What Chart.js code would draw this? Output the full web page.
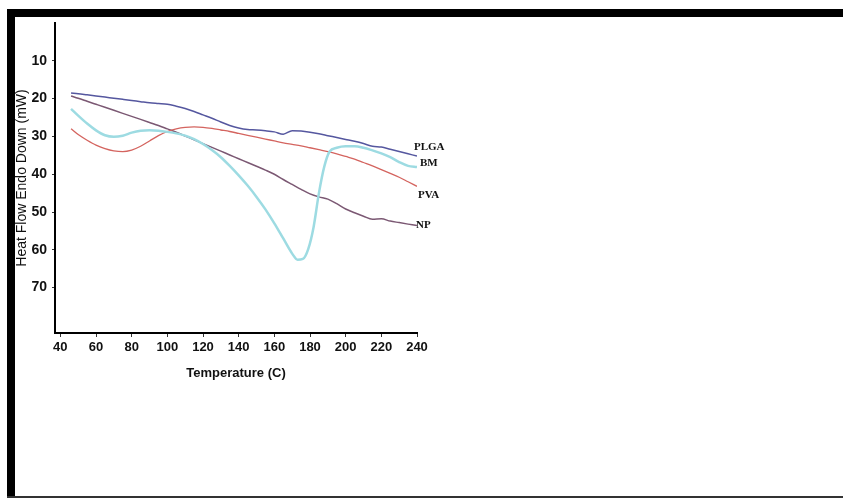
<!DOCTYPE html>
<html>
<head>
<meta charset="utf-8">
<script src="https://cdn.jsdelivr.net/npm/chart.js@4/dist/chart.umd.min.js"></script>
<style>
  body { margin: 0; background: #fff; }
  #wrap { position: relative; width: 844px; height: 500px; overflow: hidden; }
  #chart { position: absolute; left: 0; top: 0; }
  .band { position: absolute; background: #000; }
</style>
</head>
<body>
<div id="wrap">
  <canvas id="chart" width="844" height="500"></canvas>
  <div class="band" style="left:7px; top:9px; width:836px; height:8px;"></div>
  <div class="band" style="left:7px; top:9px; width:8px; height:489px;"></div>
  <div class="band" style="left:7px; top:496px; width:836px; height:2px; background:#333;"></div>
</div>
<script>
// temperature (C) shared by PLGA, PVA and NP
let temps = [46, 50, 55, 60, 65, 70, 75, 80, 85, 90, 95, 100, 105, 110, 115, 120, 125, 130, 135, 140,
    145, 150, 155, 160, 165, 170, 175, 180, 185, 190, 195, 200, 205, 210, 215, 220, 225, 230, 235, 240];

let plga = [18.5, 18.7, 19.0, 19.3, 19.6, 19.9, 20.2, 20.5, 20.8, 21.1, 21.3, 21.5, 22.0, 22.6, 23.4, 24.3, 25.2, 26.2, 27.1, 27.8,
    28.2, 28.3, 28.5, 28.8, 29.4, 28.5, 28.6, 28.9, 29.3, 29.8, 30.3, 30.8, 31.3, 31.9, 32.6, 32.8, 33.4, 34.0, 34.6, 35.2];

let pva = [28.0, 29.5, 31.0, 32.3, 33.2, 33.8, 34.0, 33.6, 32.6, 31.2, 29.8, 28.7, 28.0, 27.6, 27.5, 27.6, 27.9, 28.3, 28.7, 29.2,
    29.7, 30.2, 30.7, 31.2, 31.7, 32.1, 32.5, 33.0, 33.5, 34.0, 34.6, 35.3, 36.0, 36.9, 37.8, 38.8, 39.8, 40.8, 42.0, 43.2];

let np = [19.3, 19.9, 20.7, 21.5, 22.3, 23.1, 23.9, 24.7, 25.5, 26.3, 27.1, 28.0, 28.9, 29.9, 30.9, 31.9, 32.9, 33.9, 34.9, 35.9,
    36.9, 37.9, 38.9, 40.0, 41.4, 42.7, 44.0, 45.2, 46.0, 46.6, 47.8, 49.2, 50.2, 51.1, 51.9, 51.8, 52.4, 52.8, 53.2, 53.6];

// BM has a sharp peak, so it gets its own temperature list
let bmTemps = [46, 50, 55, 60, 65, 70, 75, 80, 85, 90, 95, 100, 105, 110, 115, 120, 125, 130, 135, 140,
    145, 150, 155, 160, 165, 170, 173, 176, 179, 182, 185, 188, 191, 195, 200, 205, 210, 215, 220, 225, 230, 235, 240];
let bm = [22.7, 24.5, 26.6, 28.4, 29.7, 30.1, 29.8, 29.0, 28.5, 28.4, 28.5, 28.8, 29.2, 29.8, 30.7, 32.0, 33.6, 35.5, 37.8, 40.3,
    43.0, 46.0, 49.3, 53.0, 57.0, 61.0, 62.6, 62.4, 59.8, 54.0, 45.0, 38.0, 34.0, 33.0, 32.6, 32.6, 33.0, 33.7, 34.5, 35.5, 36.8, 37.8, 38.1];

let xTicks = [40, 60, 80, 100, 120, 140, 160, 180, 200, 220, 240];
let yTicks = [10, 20, 30, 40, 50, 60, 70];

function toPoints(xs, ys) {
    return xs.map((x, i) => ({ x: x, y: ys[i] }));
}

// draws the series names at the right end of each curve
let endLabels = {
    id: 'endLabels',
    afterDatasetsDraw(chart) {
        let ctx = chart.ctx;
        ctx.save();
        ctx.font = 'bold 11px "Liberation Serif", "Times New Roman", serif';
        ctx.fillStyle = '#111';
        ctx.textBaseline = 'middle';
        chart.data.datasets.forEach((ds, i) => {
            let pts = chart.getDatasetMeta(i).data;
            let last = pts[pts.length - 1];
            ctx.fillText(ds.label, last.x + ds.labelDx, last.y + ds.labelDy);
        });
        ctx.restore();
    }
};

let sans = '"Liberation Sans Narrow", "Liberation Sans", Arial, sans-serif';

let ctx = document.getElementById('chart').getContext('2d');
new Chart(ctx, {
    type: 'line',
    data: {
        datasets: [
            { label: 'PLGA', data: toPoints(temps, plga), borderColor: '#55579f', borderWidth: 1.5, labelDx: -3, labelDy: -9 },
            { label: 'BM', data: toPoints(bmTemps, bm), borderColor: '#9ddbe2', borderWidth: 2.5, labelDx: 3, labelDy: -4 },
            { label: 'PVA', data: toPoints(temps, pva), borderColor: '#d4645f', borderWidth: 1.3, labelDx: 1, labelDy: 9 },
            { label: 'NP', data: toPoints(temps, np), borderColor: '#7b5873', borderWidth: 1.5, labelDx: -1, labelDy: 0 }
        ]
    },
    options: {
        responsive: false,
        animation: false,
        elements: {
            point: { radius: 0 },
            line: { tension: 0.35, cubicInterpolationMode: 'monotone' }
        },
        layout: { padding: { left: 8, top: 23, right: 427, bottom: 117 } },
        plugins: {
            legend: { display: false },
            tooltip: { enabled: false }
        },
        scales: {
            x: {
                type: 'linear',
                min: 37,
                max: 240,
                afterBuildTicks: scale => { scale.ticks = xTicks.map(v => ({ value: v })); },
                afterFit: scale => { scale.height = 50; },
                border: { display: true, color: '#000', width: 2 },
                grid: { display: true, drawOnChartArea: false, color: '#333', tickLength: 4 },
                ticks: {
                    color: '#111',
                    padding: 3,
                    maxRotation: 0,
                    font: { family: sans, size: 13, weight: 'bold' }
                },
                title: {
                    display: true,
                    text: 'Temperature (C)',
                    color: '#111',
                    padding: { top: 0, bottom: 2 },
                    font: { family: sans, size: 13, weight: 'bold' }
                }
            },
            y: {
                reverse: true,
                min: 0,
                max: 82,
                afterBuildTicks: scale => { scale.ticks = yTicks.map(v => ({ value: v })); },
                afterFit: scale => { scale.width = 47; },
                border: { display: true, color: '#000', width: 2 },
                grid: { display: true, drawOnChartArea: false, color: '#333', tickLength: 3 },
                ticks: {
                    color: '#111',
                    padding: 5,
                    font: { family: sans, size: 14, weight: 'bold' }
                },
                title: {
                    display: true,
                    text: 'Heat Flow Endo Down (mW)',
                    color: '#111',
                    padding: { top: 6, bottom: 0 },
                    font: { family: '"Liberation Sans", Arial, sans-serif', size: 14 }
                }
            }
        }
    },
    plugins: [endLabels]
});
</script>
</body>
</html>
